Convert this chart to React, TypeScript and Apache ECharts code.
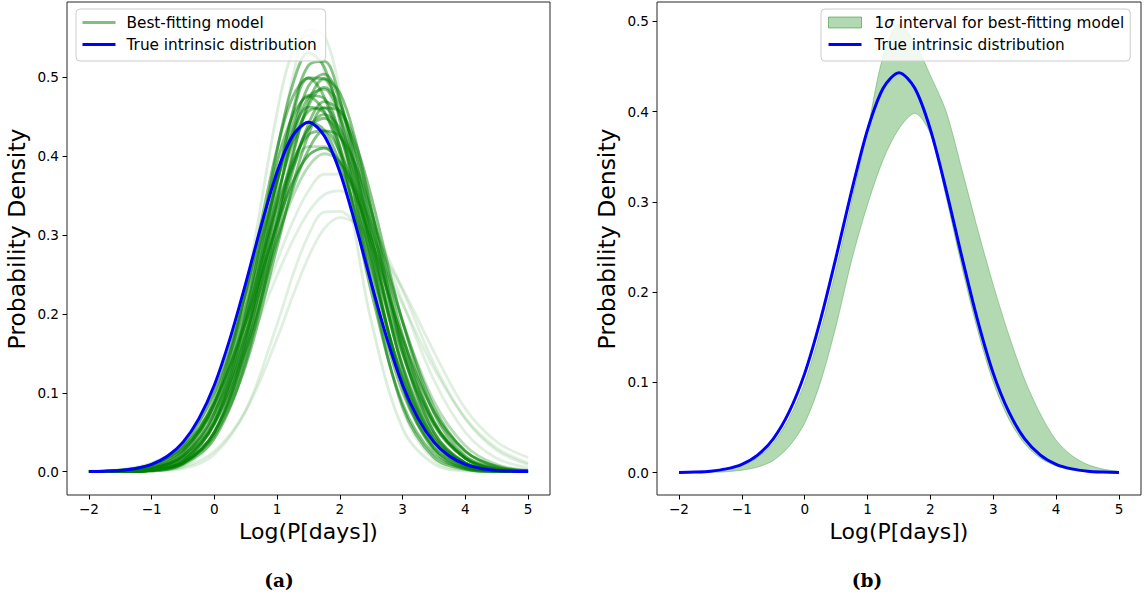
import React, { useEffect, useRef } from "react";
import * as echarts from "echarts";

// ---------- data ----------
const xFine = [-2, -1.75, -1.5, -1.25, -1, -0.75, -0.5, -0.25, 0, 0.25, 0.5, 0.75, 1, 1.25, 1.5, 1.75, 2, 2.25, 2.5, 2.75, 3, 3.25, 3.5, 3.75, 4, 4.25, 4.5, 4.75, 5];
const trueDensity = [0.0002, 0.0007, 0.0017, 0.0042, 0.0093, 0.0195, 0.0375, 0.067, 0.11, 0.169, 0.239, 0.313, 0.38, 0.426, 0.443, 0.426, 0.38, 0.313, 0.239, 0.169, 0.11, 0.067, 0.0375, 0.0195, 0.0093, 0.0042, 0.0017, 0.0007, 0.0002];
const bandLower = [0, 0.0001, 0.0003, 0.001, 0.0028, 0.0062, 0.0135, 0.029, 0.055, 0.1, 0.163, 0.236, 0.297, 0.347, 0.381, 0.398, 0.375, 0.305, 0.228, 0.158, 0.1, 0.059, 0.032, 0.016, 0.0075, 0.003, 0.0012, 0.0004, 0.0001];
const bandUpper = [0.0001, 0.0005, 0.0013, 0.0035, 0.008, 0.017, 0.033, 0.06, 0.1, 0.157, 0.226, 0.302, 0.38, 0.462, 0.497, 0.476, 0.44, 0.4, 0.336, 0.27, 0.208, 0.152, 0.103, 0.065, 0.036, 0.019, 0.009, 0.004, 0.0015];

const xSample = [-2, -1.5, -1, -0.5, 0, 0.5, 1, 1.25, 1.5, 1.75, 2, 2.25, 2.5, 3, 3.5, 4, 4.5, 5];
const sample01 = [0, 0, 0.001, 0.007, 0.043, 0.168, 0.394, 0.5, 0.56, 0.553, 0.482, 0.37, 0.251, 0.079, 0.015, 0.002, 0, 0];
const sample02 = [0, 0, 0.002, 0.014, 0.073, 0.232, 0.456, 0.533, 0.553, 0.508, 0.414, 0.299, 0.191, 0.055, 0.01, 0.001, 0, 0];
const sample03 = [0, 0, 0.002, 0.013, 0.063, 0.2, 0.407, 0.491, 0.531, 0.513, 0.444, 0.344, 0.239, 0.082, 0.018, 0.003, 0, 0];
const sample04 = [0, 0, 0.001, 0.01, 0.05, 0.167, 0.364, 0.457, 0.515, 0.52, 0.472, 0.384, 0.281, 0.108, 0.027, 0.004, 0.001, 0];
const sample05 = [0, 0, 0.004, 0.022, 0.086, 0.228, 0.41, 0.475, 0.499, 0.475, 0.41, 0.321, 0.228, 0.086, 0.022, 0.004, 0, 0];
const sample06 = [0, 0, 0.002, 0.011, 0.05, 0.159, 0.341, 0.429, 0.489, 0.504, 0.47, 0.396, 0.302, 0.13, 0.038, 0.007, 0.001, 0];
const sample07 = [0, 0, 0.004, 0.02, 0.075, 0.2, 0.37, 0.44, 0.477, 0.473, 0.428, 0.354, 0.267, 0.116, 0.035, 0.007, 0.001, 0];
const sample08 = [0, 0, 0.002, 0.011, 0.05, 0.152, 0.32, 0.404, 0.464, 0.487, 0.464, 0.404, 0.32, 0.152, 0.05, 0.011, 0.002, 0];
const sample09 = [0, 0.001, 0.004, 0.02, 0.074, 0.19, 0.349, 0.416, 0.457, 0.461, 0.427, 0.364, 0.285, 0.135, 0.046, 0.011, 0.002, 0];
const sample10 = [0, 0, 0.002, 0.012, 0.05, 0.146, 0.301, 0.381, 0.441, 0.469, 0.457, 0.408, 0.334, 0.173, 0.064, 0.017, 0.003, 0];
const sample11 = [0, 0.001, 0.008, 0.033, 0.101, 0.224, 0.368, 0.419, 0.443, 0.433, 0.391, 0.328, 0.254, 0.121, 0.042, 0.011, 0.002, 0];
const sample12 = [0, 0.001, 0.004, 0.02, 0.069, 0.175, 0.323, 0.39, 0.435, 0.448, 0.427, 0.375, 0.305, 0.159, 0.061, 0.017, 0.003, 0.001];
const sample13 = [0, 0.001, 0.004, 0.018, 0.061, 0.155, 0.292, 0.358, 0.408, 0.432, 0.425, 0.389, 0.33, 0.191, 0.082, 0.026, 0.006, 0.001];
const sample14 = [0, 0.002, 0.01, 0.036, 0.1, 0.21, 0.337, 0.386, 0.412, 0.412, 0.384, 0.335, 0.273, 0.148, 0.061, 0.019, 0.005, 0.001];
const sample15 = [0, 0.002, 0.008, 0.028, 0.08, 0.175, 0.296, 0.349, 0.387, 0.403, 0.393, 0.36, 0.309, 0.189, 0.089, 0.033, 0.009, 0.002];
const sample16 = [0, 0.002, 0.009, 0.029, 0.077, 0.16, 0.267, 0.317, 0.356, 0.377, 0.377, 0.357, 0.319, 0.215, 0.116, 0.05, 0.017, 0.005];
const sample17 = [0.001, 0.003, 0.011, 0.033, 0.078, 0.154, 0.249, 0.293, 0.329, 0.351, 0.356, 0.344, 0.316, 0.23, 0.137, 0.067, 0.027, 0.009];
const sample18 = [0, 0, 0.001, 0.004, 0.022, 0.078, 0.187, 0.249, 0.3, 0.329, 0.33, 0.315, 0.288, 0.212, 0.131, 0.068, 0.03, 0.011];
const sample19 = [0, 0, 0.001, 0.006, 0.026, 0.077, 0.169, 0.223, 0.272, 0.308, 0.322, 0.315, 0.297, 0.232, 0.152, 0.08, 0.038, 0.018];
const sample20 = [0, 0.001, 0.005, 0.025, 0.086, 0.211, 0.37, 0.431, 0.462, 0.455, 0.412, 0.343, 0.262, 0.119, 0.038, 0.009, 0.002, 0];
const sample21 = [0, 0, 0.002, 0.014, 0.06, 0.173, 0.345, 0.424, 0.475, 0.485, 0.451, 0.382, 0.295, 0.133, 0.042, 0.009, 0.001, 0];
const sample22 = [0, 0.001, 0.003, 0.017, 0.063, 0.165, 0.315, 0.386, 0.435, 0.453, 0.435, 0.386, 0.315, 0.165, 0.063, 0.017, 0.003, 0.001];
const sample23 = [0, 0, 0.002, 0.014, 0.062, 0.185, 0.371, 0.453, 0.499, 0.498, 0.45, 0.367, 0.272, 0.11, 0.03, 0.005, 0.001, 0];
const sample24 = [0, 0, 0.001, 0.009, 0.042, 0.139, 0.31, 0.4, 0.469, 0.498, 0.48, 0.42, 0.333, 0.156, 0.05, 0.011, 0.002, 0];
const sample25 = [0, 0.001, 0.007, 0.028, 0.085, 0.196, 0.335, 0.393, 0.427, 0.432, 0.405, 0.353, 0.286, 0.15, 0.059, 0.017, 0.004, 0.001];
const sample26 = [0, 0.001, 0.005, 0.026, 0.092, 0.227, 0.392, 0.451, 0.475, 0.457, 0.403, 0.326, 0.241, 0.101, 0.03, 0.006, 0.001, 0];
const sample27 = [0, 0, 0.002, 0.011, 0.046, 0.135, 0.285, 0.364, 0.427, 0.461, 0.457, 0.416, 0.349, 0.19, 0.074, 0.02, 0.004, 0.001];
const bestFit = [0, 0.002, 0.009, 0.031, 0.088, 0.189, 0.314, 0.367, 0.401, 0.41, 0.392, 0.352, 0.295, 0.17, 0.076, 0.026, 0.007, 0.001];

const sampleCurves = [sample01, sample02, sample03, sample04, sample05, sample06, sample07, sample08, sample09, sample10, sample11, sample12, sample13, sample14, sample15, sample16, sample17, sample18, sample19, sample20, sample21, sample22, sample23, sample24, sample25, sample26, sample27];
const sampleAlpha = [0.12, 0.14, 0.48, 0.48, 0.48, 0.48, 0.48, 0.48, 0.48, 0.48, 0.48, 0.48, 0.48, 0.28, 0.28, 0.12, 0.12, 0.12, 0.12, 0.48, 0.48, 0.48, 0.48, 0.48, 0.48, 0.48, 0.48];

const xTicks = [-2, -1, 0, 1, 2, 3, 4, 5];
const xTickLabels = ["\u22122", "\u22121", "0", "1", "2", "3", "4", "5"];
const yTicks = [0, 0.1, 0.2, 0.3, 0.4, 0.5];
const yTickLabels = ["0.0", "0.1", "0.2", "0.3", "0.4", "0.5"];

const xTitle = "Log(P[days])";
const yTitle = "Probability Density";
const nameBest = "Best-fitting model";
const nameTrue = "True intrinsic distribution";
const nameBand = "1\u03c3 interval for best-fitting model";
const captions = ["(a)", "(b)"];

// ---------- styles ----------
const FONT = "DejaVu Sans";
const GREEN = (a: number) => `rgba(0,128,0,${a})`;
const BLUE = "#0000ff";
const NOSYM = { color: "rgba(0,0,0,0)", borderColor: "rgba(0,0,0,0)", borderWidth: 0, opacity: 0 };

function makeX(gi: number) {
  return {
    type: "value",
    gridIndex: gi,
    min: -2.35,
    max: 5.35,
    axisLine: { show: false, onZero: false },
    splitLine: { show: false },
    axisTick: { show: true, customValues: xTicks, length: 4.5, lineStyle: { color: "#000", width: 1 } },
    axisLabel: {
      customValues: xTicks,
      formatter: (v: number) => {
        const i = xTicks.indexOf(v);
        return i >= 0 ? xTickLabels[i] : "";
      },
      fontFamily: FONT,
      fontSize: 13.6,
      color: "#000",
      margin: 7,
    },
  };
}

function makeY(gi: number, min: number, max: number) {
  return {
    type: "value",
    gridIndex: gi,
    min,
    max,
    axisLine: { show: false, onZero: false },
    splitLine: { show: false },
    axisTick: { show: true, customValues: yTicks, length: 4.5, lineStyle: { color: "#000", width: 1 } },
    axisLabel: {
      customValues: yTicks,
      formatter: (v: number) => {
        const i = yTicks.findIndex((t) => Math.abs(t - v) < 1e-9);
        return i >= 0 ? yTickLabels[i] : "";
      },
      fontFamily: FONT,
      fontSize: 13.6,
      color: "#000",
      margin: 8,
    },
  };
}

const legendBase = {
  orient: "vertical",
  top: 9,
  itemGap: 5,
  itemWidth: 33,
  itemHeight: 11,
  backgroundColor: "rgba(255,255,255,0.8)",
  borderColor: "#cccccc",
  borderWidth: 1,
  borderRadius: 4,
  selectedMode: false,
};

export default function App() {
  const ref = useRef<HTMLDivElement>(null);
  useEffect(() => {
    if (!ref.current) return;
    const chart = echarts.init(ref.current, undefined, { renderer: "svg" });

    const series: any[] = [];
    sampleCurves.forEach((c, i) => {
      series.push({
        type: "line",
        name: "posterior sample " + (i + 1),
        xAxisIndex: 0,
        yAxisIndex: 0,
        data: xSample.map((x, j) => [x, c[j]]),
        showSymbol: false,
        symbol: "none",
        smooth: 0.35,
        silent: true,
        lineStyle: { color: GREEN(sampleAlpha[i]), width: 2.8 },
        z: 2,
      });
    });
    series.push({
      type: "line",
      name: nameBest,
      xAxisIndex: 0,
      yAxisIndex: 0,
      data: xSample.map((x, j) => [x, bestFit[j]]),
      showSymbol: false,
      symbol: "none",
      smooth: 0.35,
      silent: true,
      itemStyle: { color: GREEN(0.5) },
      lineStyle: { color: GREEN(0.6), width: 2.8 },
      z: 3,
    });
    series.push({
      type: "line",
      name: nameTrue,
      xAxisIndex: 0,
      yAxisIndex: 0,
      data: xFine.map((x, j) => [x, trueDensity[j]]),
      showSymbol: false,
      symbol: "none",
      smooth: 0.3,
      silent: true,
      itemStyle: { color: BLUE },
      lineStyle: { color: BLUE, width: 3 },
      z: 5,
    });
    // right panel: band = green area under the upper edge, masked in white under the lower edge
    series.push({
      type: "line",
      name: nameBand,
      xAxisIndex: 1,
      yAxisIndex: 1,
      data: xFine.map((x, j) => [x, bandUpper[j]]),
      showSymbol: false,
      symbol: "none",
      smooth: 0.3,
      silent: true,
      itemStyle: { color: GREEN(0.3) },
      lineStyle: { color: GREEN(0.3), width: 1 },
      areaStyle: { color: GREEN(0.3), opacity: 1, origin: 0 },
      z: 2,
    });
    series.push({
      type: "line",
      name: "band lower edge",
      xAxisIndex: 1,
      yAxisIndex: 1,
      data: xFine.map((x, j) => [x, bandLower[j]]),
      showSymbol: false,
      symbol: "none",
      smooth: 0.3,
      silent: true,
      lineStyle: { color: GREEN(0.3), width: 1 },
      areaStyle: { color: "#ffffff", opacity: 1, origin: -0.01 },
      z: 3,
    });
    series.push({
      type: "line",
      name: nameTrue,
      xAxisIndex: 1,
      yAxisIndex: 1,
      data: xFine.map((x, j) => [x, trueDensity[j]]),
      showSymbol: false,
      symbol: "none",
      smooth: 0.3,
      silent: true,
      itemStyle: { color: BLUE },
      lineStyle: { color: BLUE, width: 3 },
      z: 5,
    });

    const textStyle = (size: number, extra: any = {}) => ({
      text: "",
      fontFamily: FONT,
      fontSize: size,
      fill: "#000",
      textAlign: "center",
      textVerticalAlign: "middle",
      align: "center",
      verticalAlign: "middle",
      ...extra,
    });

    const option: any = {
      animation: false,
      backgroundColor: "#ffffff",
      grid: [
        { left: 67, top: 2, width: 483, height: 493, show: true, borderColor: "#262626", borderWidth: 1, backgroundColor: "transparent" },
        { left: 657, top: 2, width: 484, height: 493, show: true, borderColor: "#262626", borderWidth: 1, backgroundColor: "transparent" },
      ],
      xAxis: [makeX(0), makeX(1)],
      yAxis: [makeY(0, -0.0295, 0.5953), makeY(1, -0.0247, 0.5213)],
      legend: [
        {
          ...legendBase,
          left: 76,
          padding: [5, 9, 8, 5],
          textStyle: { fontFamily: FONT, fontSize: 15.3, color: "#000", lineHeight: 17, padding: [0, 0, 0, 6] },
          data: [
            { name: nameBest, itemStyle: NOSYM, lineStyle: { color: GREEN(0.5), width: 3 } },
            { name: nameTrue, itemStyle: NOSYM, lineStyle: { color: BLUE, width: 3 } },
          ],
        },
        {
          ...legendBase,
          left: 821,
          padding: [5, 6, 8, 6],
          formatter: (n: string) => (n === nameBand ? "1{i|\u03c3} interval for best-fitting model" : n),
          textStyle: {
            fontFamily: FONT,
            fontSize: 15.3,
            color: "#000",
            lineHeight: 17,
            padding: [0, 0, 0, 8],
            rich: { i: { fontFamily: FONT, fontSize: 15.3, fontStyle: "italic", color: "#000", lineHeight: 17 } },
          },
          data: [
            { name: nameBand, icon: "rect", itemStyle: { color: GREEN(0.3), borderColor: GREEN(0.45), borderWidth: 1 } },
            { name: nameTrue, itemStyle: NOSYM, lineStyle: { color: BLUE, width: 3 } },
          ],
        },
      ],
      graphic: [
        { type: "text", x: 17, y: 239, rotation: Math.PI / 2, style: textStyle(23.5, { text: yTitle }) },
        { type: "text", x: 607, y: 239, rotation: Math.PI / 2, style: textStyle(23.5, { text: yTitle }) },
        { type: "text", x: 308.5, y: 531, style: textStyle(22, { text: xTitle }) },
        { type: "text", x: 899, y: 531, style: textStyle(22, { text: xTitle }) },
        { type: "text", x: 279, y: 580, style: textStyle(18.5, { text: captions[0], fontFamily: "DejaVu Serif", fontWeight: "bold" }) },
        { type: "text", x: 867, y: 580, style: textStyle(18.5, { text: captions[1], fontFamily: "DejaVu Serif", fontWeight: "bold" }) },
      ],
      series,
    };
    chart.setOption(option);
    return () => chart.dispose();
  }, []);

  return <div ref={ref} style={{ position: "fixed", left: 0, top: 0, width: 1148, height: 597, background: "#fff" }} />;
}
